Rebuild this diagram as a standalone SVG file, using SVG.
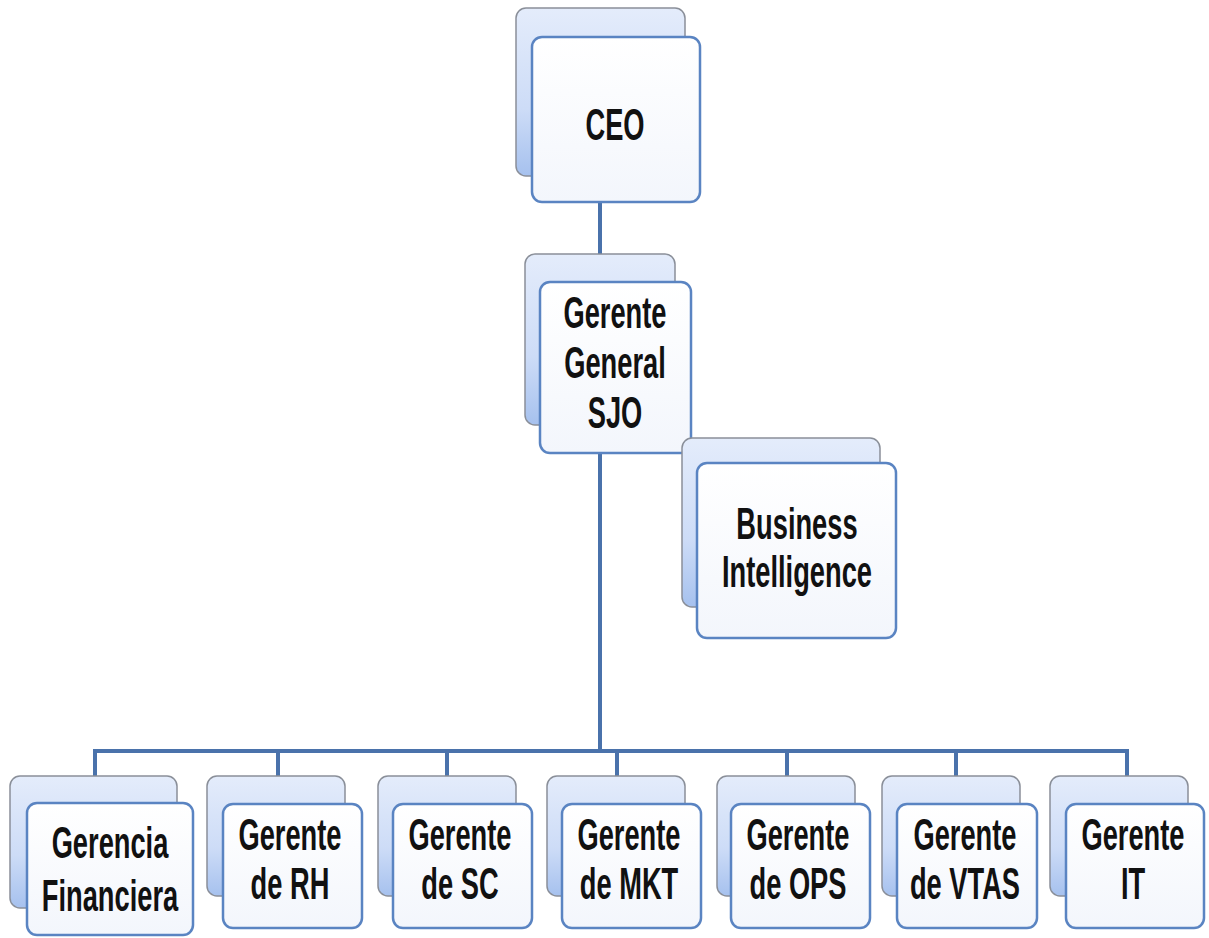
<svg xmlns="http://www.w3.org/2000/svg" width="1209" height="938" viewBox="0 0 1209 938">
<defs>
<linearGradient id="gBack" x1="0" y1="0" x2="0" y2="1">
<stop offset="0" stop-color="#e4ecfb"/>
<stop offset="0.6" stop-color="#cddcf7"/>
<stop offset="1" stop-color="#a6c1ee"/>
</linearGradient>
<linearGradient id="gFront" x1="0" y1="0" x2="0" y2="1">
<stop offset="0" stop-color="#ffffff"/>
<stop offset="1" stop-color="#f3f6fc"/>
</linearGradient>
<style>
.back{fill:url(#gBack);stroke:#8a8f99;stroke-width:1.5}
.front{fill:url(#gFront);stroke:#5a84c2;stroke-width:2.5}
.t{font-family:"Liberation Sans",Arial,sans-serif;font-size:44px;font-weight:bold;fill:#111;text-anchor:middle}
.c{stroke:#4a72ab;stroke-width:4;fill:none}
</style>
</defs>
<rect width="1209" height="938" fill="#ffffff"/>
<g id="connectors">
<line class="c" x1="600" y1="176" x2="600" y2="282"/>
<line class="c" x1="600" y1="453" x2="600" y2="751"/>
<line class="c" x1="93" y1="751" x2="1129" y2="751"/>
<line class="c" x1="95" y1="751" x2="95" y2="777"/>
<line class="c" x1="278" y1="751" x2="278" y2="777"/>
<line class="c" x1="447" y1="751" x2="447" y2="777"/>
<line class="c" x1="617" y1="751" x2="617" y2="777"/>
<line class="c" x1="787" y1="751" x2="787" y2="777"/>
<line class="c" x1="956" y1="751" x2="956" y2="777"/>
<line class="c" x1="1127" y1="751" x2="1127" y2="777"/>
</g>
<g id="ceo">
<rect class="back" x="516" y="8" width="169" height="168" rx="10"/>
<rect class="front" x="532" y="37" width="168" height="165" rx="10"/>
<g transform="translate(615 0) scale(0.62 1)"><text class="t" x="0" y="140">CEO</text></g>
</g>
<g id="gerente-general">
<rect class="back" x="525" y="254" width="150" height="171" rx="10"/>
<rect class="front" x="540" y="282" width="151" height="171" rx="10"/>
<g transform="translate(615 0) scale(0.62 1)"><text class="t" x="0" y="328">Gerente</text><text class="t" x="0" y="378">General</text><text class="t" x="0" y="428">SJO</text></g>
</g>
<g id="business-intelligence">
<rect class="back" x="682" y="438" width="198" height="169" rx="10"/>
<rect class="front" x="697" y="463" width="199" height="175" rx="10"/>
<g transform="translate(797 0) scale(0.62 1)"><text class="t" x="0" y="539">Business</text><text class="t" x="0" y="587">Intelligence</text></g>
</g>
<g id="gerencia-financiera">
<rect class="back" x="10" y="776" width="167" height="132" rx="10"/>
<rect class="front" x="27" y="803" width="166" height="132" rx="10"/>
<g transform="translate(110 0) scale(0.62 1)"><text class="t" x="0" y="858">Gerencia</text><text class="t" x="0" y="911">Financiera</text></g>
</g>
<g id="gerente-rh">
<rect class="back" x="207" y="776" width="138" height="120" rx="10"/>
<rect class="front" x="223" y="804" width="139" height="124" rx="10"/>
<g transform="translate(290 0) scale(0.62 1)"><text class="t" x="0" y="850">Gerente</text><text class="t" x="0" y="899">de RH</text></g>
</g>
<g id="gerente-sc">
<rect class="back" x="378" y="776" width="138" height="120" rx="10"/>
<rect class="front" x="393" y="804" width="139" height="124" rx="10"/>
<g transform="translate(460 0) scale(0.62 1)"><text class="t" x="0" y="850">Gerente</text><text class="t" x="0" y="899">de SC</text></g>
</g>
<g id="gerente-mkt">
<rect class="back" x="547" y="776" width="138" height="120" rx="10"/>
<rect class="front" x="562" y="804" width="139" height="124" rx="10"/>
<g transform="translate(629 0) scale(0.62 1)"><text class="t" x="0" y="850">Gerente</text><text class="t" x="0" y="899">de MKT</text></g>
</g>
<g id="gerente-ops">
<rect class="back" x="717" y="776" width="138" height="120" rx="10"/>
<rect class="front" x="731" y="804" width="139" height="124" rx="10"/>
<g transform="translate(798 0) scale(0.62 1)"><text class="t" x="0" y="850">Gerente</text><text class="t" x="0" y="899">de OPS</text></g>
</g>
<g id="gerente-vtas">
<rect class="back" x="882" y="776" width="138" height="120" rx="10"/>
<rect class="front" x="897" y="804" width="140" height="124" rx="10"/>
<g transform="translate(965 0) scale(0.62 1)"><text class="t" x="0" y="850">Gerente</text><text class="t" x="0" y="899">de VTAS</text></g>
</g>
<g id="gerente-it">
<rect class="back" x="1050" y="776" width="138" height="120" rx="10"/>
<rect class="front" x="1066" y="804" width="138" height="124" rx="10"/>
<g transform="translate(1133 0) scale(0.62 1)"><text class="t" x="0" y="850">Gerente</text><text class="t" x="0" y="899">IT</text></g>
</g>
</svg>
